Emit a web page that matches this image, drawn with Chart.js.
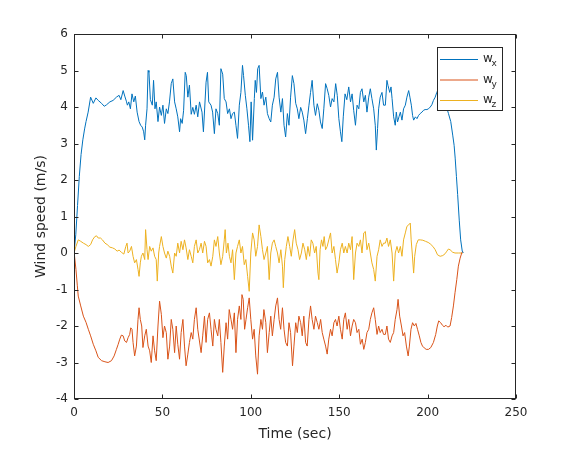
<!DOCTYPE html>
<html>
<head>
<meta charset="utf-8">
<script src="https://cdn.jsdelivr.net/npm/chart.js@4/dist/chart.umd.min.js"></script>
<style>
  html, body { margin: 0; padding: 0; background: #fff; }
  #wrap { width: 570px; height: 450px; }
</style>
</head>
<body>
<div id="wrap"><canvas id="windChart" width="570" height="450"></canvas></div>
<script>
// axis ticks
const xTickValues = [0, 50, 100, 150, 200, 250];
const yTickValues = [-4, -3, -2, -1, 0, 1, 2, 3, 4, 5, 6];

// w_x
const wxTime = [0, 1, 2, 3, 4, 5, 6, 6.8, 8, 9.4, 10.9, 12.4, 13.7, 15.6, 17.1, 18.4, 20.3, 22.1, 24, 25.5, 26.5, 27.8, 28.7, 29.6, 30.2, 31, 31.9, 32.8, 33.8, 34.7, 35.7, 36.8, 37.7, 38.6, 39.4, 40, 40.5, 41.3, 41.9, 42.4, 43.2, 44.3, 45, 45.8, 46.5, 47.5, 48.4, 49.4, 50.3, 51.2, 52.2, 53.1, 54, 55, 55.9, 56.9, 57.8, 58.7, 59.7, 60.3, 61.2, 62, 62.9, 63.5, 64.4, 65.3, 66.3, 67.2, 68.1, 69.1, 70, 71,
  72.4, 73.2, 74.7, 75.5, 76.2, 77.5, 78.4, 79.4, 80.3, 81.3, 82.2, 83.1, 84.1, 85, 86, 86.9, 87.9, 88.8, 89.7, 90.7, 91.6, 92.5, 93.5, 94.4, 95.3, 95.9, 96.9, 97.8, 98.7, 99.5, 100.2, 101, 102, 102.5, 103.2, 103.9, 104.7, 105.7, 106.6, 107.5, 108.5, 109.4, 110.4, 111.3, 112.2, 113.2, 114.1, 115.1, 116, 117, 117.9, 118.8, 119.7, 120.7, 121.6, 122.5, 123.5, 124.4, 125.4, 126.3, 127.2, 128.2, 129.1, 130, 131, 132, 132.9, 133.8, 134.7, 135.7, 136.6, 137.6, 138.5, 139.4, 140.4, 141.3, 142.3, 143.2, 144.1, 145.1, 146, 147, 148, 148.9, 149.8,
  150.7, 151.5, 152.3, 153.3, 154.3, 155.4, 156.4, 157.3, 158.2, 159.2, 160.1, 161.1, 162, 162.9, 163.9, 164.8, 165.7, 166.7, 167.6, 168.5, 169.5, 170.4, 171, 171.7, 172.3, 173.2, 174.2, 175.1, 176.1, 177, 177.6, 178.6, 179.3, 179.9, 180.8, 181.7, 182.3, 183, 183.8, 184.6, 185.5, 186.4, 187.4, 188.3, 189.3, 190, 190.8,
  191.5, 192.1, 193.1, 194, 194.9, 195.8, 196.8, 197.7, 198.6, 199.6, 200.5, 201.5, 202.4, 203.3, 204.3, 205.2, 206.2, 207.1, 208, 209, 210, 211, 211.8, 213.1, 214.2, 215, 215.6, 216.3, 217, 217.9, 218.7, 219.6, 220.2];
const wxVal = [0, 0.5, 1.3, 2.1, 2.7, 3.1, 3.4, 3.6, 3.86, 4.27, 4.1, 4.25, 4.18, 4.1, 4.02, 4.06, 4.14, 4.18, 4.27, 4.32, 4.2, 4.45, 4.3, 4.16, 4.05, 4.14, 3.95, 4.36, 4.14, 4.3, 3.86, 3.6, 3.5, 3.45, 3.32, 3.1, 3.5, 3.95, 5.0, 4.95, 4.2, 4.05, 4.73, 3.95, 4.14, 3.6, 4.0, 3.77, 4.05, 3.55, 3.95, 3.82, 4.14, 4.64, 4.77, 4.14, 3.95, 3.73, 3.32, 3.68, 3.55, 3.91, 4.95, 4.86, 4.27, 4.6, 3.8, 3.99, 3.8, 4.05, 3.73, 4.14,
  3.86, 3.32, 4.68, 4.95, 4.14, 4.05, 3.86, 3.27, 3.95, 3.82, 3.5, 5.05, 4.9, 4.23, 4.14, 3.82, 3.95, 3.68, 3.82, 3.86, 3.5, 3.14, 4.05, 4.4, 5.14, 4.86, 4.32, 3.95, 3.5, 3.05, 4.14, 3.09, 4.23, 4.73, 4.4, 5.05, 5.14, 4.23, 4.41, 4.05, 4.27, 3.82, 3.68, 3.59, 4.05, 4.27, 4.77, 4.95, 4.27, 3.86, 4.23, 3.5, 3.18, 3.82, 3.5, 4.27, 4.86, 4.64, 4.1, 3.95, 3.68, 3.99, 3.86, 3.64, 3.27, 3.68, 4.05, 4.4, 4.73, 4.05, 3.77, 4.09, 3.91, 3.59, 3.41, 3.95, 4.64, 4.5, 4.32, 4.0, 4.23, 4.14, 4.64, 4.32, 3.68,
  3.32, 3.05, 3.73, 4.36, 4.2, 4.55, 4.14, 4.36, 3.91, 3.5, 4.05, 3.95, 4.4, 4.5, 4.14, 4.32, 3.86, 4.27, 4.5, 4.23, 3.95, 3.5, 2.82, 3.41, 3.95, 4.27, 4.4, 4.05, 4.05, 4.73, 4.59, 4.4, 4.55, 4.23, 3.73, 3.5, 3.86, 3.59, 3.73, 3.86, 3.64, 3.95, 4.05, 4.27, 4.45, 4.27, 4.05,
  3.77, 3.64, 3.73, 3.68, 3.77, 3.82, 3.86, 3.91, 3.93, 3.93, 3.95, 4.0, 4.06, 4.18, 4.27, 4.4, 4.5, 4.6, 4.55, 4.4, 4.2, 3.95, 3.82, 3.6, 3.23, 2.95, 2.6, 2.1, 1.6, 0.9, 0.36, 0.05, 0];

// w_y
const wyTime = [0, 1.1, 1.9, 2.4, 3.8, 5.3, 6.8, 8.1, 9.4, 10.9, 12.4, 13.7, 15.6, 17.5, 19.3, 21.2, 22.7, 24, 25, 25.9, 26.8, 27.8, 28.7, 29.7, 30.6, 31.5, 32.1, 32.8, 33.4, 34.3, 35.3, 36.2, 36.8, 37.5, 38.3, 39, 40, 40.9, 41.9, 42.8, 43.7, 44.7, 45.6, 46.5, 47.5, 48.4, 49.4, 50.3, 51.2, 52.2, 53.1, 54.1, 55, 55.9, 56.9, 57.8, 58.7, 59.7, 60.6, 61.6, 62.5, 63.4, 64.4, 65.3, 66.3, 67.2, 68.1, 69.1, 70,
  71.9, 72.8, 73.8, 74.7, 75.6, 76.6, 77.5, 78.5, 79.4, 80.3, 81.3, 82.2, 83.1, 84.1, 85, 86, 86.9, 87.8, 88.8, 89.7, 90.7, 91.6, 92.5, 93.5, 94.4, 95, 95.7, 96.5, 97.3, 98.2, 99.1, 100, 101, 101.9, 102.8, 103.8, 104.7, 105.7, 106.6, 107.4, 108.5, 109.4, 110.4, 111.3, 112.2, 113.2, 114.1, 115.1, 116, 116.9, 117.9, 118.8, 119.7, 120.7, 121.6, 122.5, 123.6, 124.4, 125.4, 126.3, 127.2, 128.2, 129.1, 130, 131, 131.9, 132.9, 133.8, 134.7, 135.7, 136.6, 137.6, 138.5, 139.5, 140.4, 141.3, 142.3, 143.2, 144.1, 145.1, 146, 147, 147.9, 148.8, 149.8,
  150.7, 151.7, 152.6, 153.5, 154.5, 155.4, 156.4, 157.3, 158.2, 159.2, 160.1, 161.1, 162, 163, 163.9, 164.8, 165.7, 166.7, 167.6, 168.5, 169.5, 170.4, 171.4, 172.3, 173.2, 174.2, 175.1, 176.1, 177, 177.9, 178.9, 179.9, 180.8, 181.7, 182.7, 183.3, 184.2, 185.2, 186.1, 187, 188, 189, 189.7, 190.6,
  191.5, 192.5, 193.4, 194.3, 195.3, 196.2, 197.1, 198.1, 199.2, 200.5, 201.8, 203.3, 204.6, 205.5, 206.3, 207.4, 208.4, 209.3, 210.4, 211.4, 212.7, 213.6, 214.6, 215.5, 216.5, 217.4, 218.4, 219.3, 219.9];
const wyVal = [0.05, -0.45, -0.9, -1.18, -1.45, -1.73, -1.9, -2.09, -2.27, -2.5, -2.68, -2.86, -2.95, -2.98, -3.0, -2.95, -2.82, -2.64, -2.5, -2.36, -2.25, -2.27, -2.41, -2.45, -2.32, -2.23, -2.05, -2.09, -2.45, -2.82, -2.55, -1.82, -1.5, -1.82, -2.0, -2.59, -2.27, -2.09, -2.55, -2.68, -3.0, -2.27, -2.68, -2.95, -2.0, -1.32, -1.68, -2.32, -2.0, -2.18, -2.91, -2.55, -1.82, -2.09, -2.73, -2.0, -2.5, -2.91, -2.18, -1.82, -2.55, -3.09, -2.77, -2.45, -2.18, -2.36, -1.82, -1.5, -2.09,
  -2.73, -2.27, -1.73, -2.45, -1.82, -1.64, -2.09, -2.55, -1.82, -2.09, -2.27, -1.82, -2.45, -3.27, -2.55, -1.91, -2.36, -1.55, -1.82, -2.09, -1.64, -2.73, -1.82, -1.45, -1.82, -1.14, -1.27, -2.09, -1.82, -1.5, -1.23, -1.82, -2.36, -2.09, -2.82, -3.32, -2.27, -1.82, -2.09, -1.55, -1.91, -2.73, -2.18, -1.73, -2.27, -1.82, -1.45, -1.23, -1.82, -2.09, -1.5, -2.09, -2.45, -2.55, -1.91, -2.18, -3.09, -2.55, -1.91, -2.18, -1.73, -1.91, -2.27, -1.73, -2.45, -2.55, -1.82, -1.45, -1.82, -2.09, -1.73, -1.91, -2.09, -1.82, -2.18, -2.36, -2.55, -2.77, -2.36, -2.09, -2.27, -1.91, -1.82, -2.0, -1.73,
  -2.09, -2.36, -1.82, -1.64, -2.09, -1.82, -2.27, -2.0, -1.82, -1.91, -2.18, -2.09, -2.5, -2.36, -2.64, -2.45, -2.18, -2.09, -1.82, -1.64, -1.5, -1.82, -2.23, -2.0, -2.18, -2.09, -2.23, -2.23, -2.0, -2.36, -2.45, -2.27, -2.18, -1.82, -1.55, -1.27, -1.73, -2.0, -2.27, -2.18, -2.55, -2.82, -2.55, -2.09,
  -1.91, -2.0, -1.93, -2.09, -2.27, -2.45, -2.55, -2.6, -2.64, -2.64, -2.59, -2.45, -2.23, -2.0, -1.86, -1.91, -1.98, -2.02, -1.98, -2.03, -2.0, -1.77, -1.45, -1.09, -0.73, -0.36, -0.14, 0, 0.05];

// w_z
const wzTime = [0, 1.1, 2.4, 3.8, 5.3, 6.8, 8.1, 9.4, 10.5, 11.8, 12.8, 13.7, 15, 16.1, 17.5, 18.8, 20.3, 21.8, 23.1, 24.4, 25.5, 26.8, 28.2, 29.3, 30, 30.6, 31.5, 32.5, 33.4, 34.3, 35.3, 36.2, 36.8, 37.5, 38.1, 39, 40, 40.5, 41.3, 41.9, 42.8, 43.7, 44.7, 45.6, 46.5, 47.1, 47.9, 48.4, 49.4, 50.3, 51.2, 52.2, 53.1, 54.1, 55, 55.9, 56.9, 57.8, 58.7, 59.7, 60.6, 61.6, 62.5, 63.4, 64.4, 65.3, 66.3, 67.2, 68.1, 69.1, 70, 70.9,
  71.9, 72.8, 73.8, 74.7, 75.6, 76.6, 77.5, 78.5, 79.4, 80.3, 81.3, 82.2, 83.1, 84.1, 85, 85.5, 86.2, 87.1, 87.9, 88.8, 89.7, 90.7, 91.6, 92.5, 93.5, 94.4, 95.3, 96.3, 97.2, 98.2, 99.1, 100, 101, 101.9, 102.8, 103.8, 104.7, 105.7, 106.6, 107.5, 108.5, 109.4, 110.4, 111.3, 112.2, 113.2, 114.1, 115.1, 116, 117, 117.9, 118.4, 119.2, 120.1, 121, 122, 122.9, 123.9, 124.8, 125.7, 126.7, 127.6, 128.6, 129.5, 130.5, 131.4, 132.3, 133.3, 134.2, 135.1, 136.1, 137, 138, 138.5, 139.2, 140, 140.8, 141.5, 142.3, 143.2, 144.1, 145.1, 146, 147, 147.9, 148.8, 149.8,
  150.7, 151.7, 152.6, 153.5, 154.5, 155.4, 156.4, 157.3, 158.2, 159.2, 160.1, 161.1, 162, 162.9, 163.9, 164.8, 165.7, 166.7, 167.6, 168.5, 169.5, 170.4, 171.4, 172.3, 173.2, 174.2, 175.1, 176.1, 177, 177.9, 178.9, 179.9, 180.8, 181.7, 182.7, 183.6, 184.6, 185.5, 186.4, 187.4, 188.3, 189.3, 190.2, 190.7, 191.3, 192.1, 192.7,
  193.6, 194.7, 195.8, 197.3, 198.8, 200.3, 201.5, 203, 204.3, 205.6, 207.1, 208.6, 209.9, 210.9, 211.8, 212.7, 214.2, 215.5, 217.4, 219.3, 219.9];
const wzVal = [0, 0.18, 0.36, 0.32, 0.27, 0.23, 0.18, 0.23, 0.36, 0.45, 0.47, 0.41, 0.41, 0.36, 0.27, 0.23, 0.16, 0.14, 0.11, 0.05, 0.08, 0.02, -0.03, 0.18, 0.27, 0, 0.05, 0.18, -0.09, -0.27, -0.18, -0.45, -0.64, -0.27, -0.09, 0, -0.18, 0.64, 0.09, -0.18, 0.18, 0.05, 0.14, -0.09, -0.18, -0.77, 0, 0.18, 0.45, 0.18, 0, -0.14, 0.05, -0.09, -0.36, -0.55, 0, -0.09, 0.27, 0, 0.32, 0.09, 0.36, 0.14, -0.18, 0.09, -0.09, -0.27, 0.18, 0.36, 0, 0.09,
  0.27, 0, 0.32, 0.18, -0.27, -0.18, -0.36, -0.09, 0.36, 0.18, 0.45, 0, -0.32, -0.09, 0.36, 0.64, 0, 0.27, -0.09, -0.27, 0.09, -0.73, 0, 0.18, 0.36, 0, 0.18, -0.32, -0.18, -0.64, -1.05, 0, 0.55, 0.36, -0.09, 0.18, 0.77, 0.45, 0.09, -0.18, 0, 0.18, -0.73, 0, 0.27, 0.36, 0.18, 0, -0.27, 0.09, -0.36, -0.95, -0.18, 0.18, 0.45, 0.18, -0.09, 0.36, 0.64, 0.27, 0.09, -0.18, 0, 0.27, 0.09, -0.18, 0.18, -0.09, 0.36, 0.27, 0, 0.18, -0.55, -0.73, 0.09, 0.36, 0.18, 0.45, 0.09, 0.18, 0.36, 0.55, 0, 0.18, -0.18, -0.55, -0.27,
  0.09, 0.27, 0, 0.18, 0, 0.27, 0.09, 0.45, -0.73, 0, 0.27, 0.18, 0.36, 0, 0.55, 0.59, 0.09, 0.27, 0, -0.27, -0.45, -0.77, -0.09, 0.09, 0.36, 0.18, 0.27, 0.27, 0.41, 0.18, 0.36, 0, -0.77, 0, 0.18, 0, 0.18, -0.09, 0.36, 0.55, 0.73, 0.77, 0.82, 0.36, 0, -0.55, -0.09,
  0.23, 0.36, 0.36, 0.35, 0.32, 0.29, 0.25, 0.18, 0.09, -0.05, -0.09, -0.07, -0.02, 0.05, 0.11, 0.09, 0.02, 0, 0, 0, 0];

const seriesNames = ['x', 'y', 'z'];
const seriesColors = ['#0072BD', '#D95319', '#EDB120'];
const axisColor = '#262626';
const fontFamily = '"DejaVu Sans", sans-serif';

function toPoints(ts, vs) {
  return ts.map((t, i) => ({x: t, y: vs[i]}));
}

// MATLAB style box, inward ticks and the legend (w with subscripts)
const matlabFrame = {
  id: 'matlabFrame',
  afterDatasetsDraw(chart) {
    const {ctx, chartArea: a, scales} = chart;
    const L = Math.round(a.left) + 0.5, R = Math.round(a.right) - 0.5;
    const T = Math.round(a.top) + 0.5, B = Math.round(a.bottom) - 0.5;
    ctx.save();
    ctx.strokeStyle = axisColor;
    ctx.lineWidth = 1;
    ctx.strokeRect(L, T, R - L, B - T);
    ctx.beginPath();
    xTickValues.forEach(v => {
      const px = Math.round(scales.x.getPixelForValue(v)) + 0.5;
      ctx.moveTo(px, B); ctx.lineTo(px, B - 4);
      ctx.moveTo(px, T); ctx.lineTo(px, T + 4);
    });
    yTickValues.forEach(v => {
      const py = Math.round(scales.y.getPixelForValue(v)) + 0.5;
      ctx.moveTo(L, py); ctx.lineTo(L + 4, py);
      ctx.moveTo(R, py); ctx.lineTo(R - 4, py);
    });
    ctx.stroke();

    // legend box
    const bx = 437.5, by = 47.5, bw = 65, bh = 63;
    ctx.fillStyle = '#fff';
    ctx.fillRect(bx, by, bw, bh);
    ctx.strokeRect(bx, by, bw, bh);
    const rows = [59, 79.5, 100];
    rows.forEach((ry, i) => {
      ctx.strokeStyle = seriesColors[i];
      ctx.beginPath();
      ctx.moveTo(440, ry + 0.5); ctx.lineTo(478, ry + 0.5);
      ctx.stroke();
      ctx.fillStyle = axisColor;
      ctx.textBaseline = 'alphabetic';
      ctx.textAlign = 'left';
      ctx.font = '12px ' + fontFamily;
      ctx.fillText('w', 483, ry + 3);
      ctx.font = '9px ' + fontFamily;
      ctx.fillText(seriesNames[i], 491.5, ry + 7);
    });
    ctx.restore();
  }
};

new Chart(document.getElementById('windChart'), {
  type: 'line',
  data: {
    datasets: [
      { label: 'w_x', data: toPoints(wxTime, wxVal), borderColor: seriesColors[0] },
      { label: 'w_y', data: toPoints(wyTime, wyVal), borderColor: seriesColors[1] },
      { label: 'w_z', data: toPoints(wzTime, wzVal), borderColor: seriesColors[2] }
    ]
  },
  options: {
    responsive: false,
    animation: false,
    events: [],
    layout: { padding: { left: 0, top: 34, right: 54, bottom: 0 } },
    elements: {
      line: { borderWidth: 1, tension: 0, fill: false },
      point: { radius: 0 }
    },
    plugins: { legend: { display: false }, tooltip: { enabled: false } },
    scales: {
      x: {
        type: 'linear',
        min: xTickValues[0],
        max: xTickValues[xTickValues.length - 1],
        afterFit: s => { s.height = 51; },
        afterBuildTicks: s => { s.ticks = xTickValues.map(v => ({value: v})); },
        grid: { display: false, drawTicks: false },
        border: { display: false },
        ticks: { color: axisColor, padding: 7, maxRotation: 0, font: { family: fontFamily, size: 12 } },
        title: { display: true, text: 'Time (sec)', color: axisColor, padding: { top: 0, bottom: 7 }, font: { family: fontFamily, size: 14 } }
      },
      y: {
        min: yTickValues[0],
        max: yTickValues[yTickValues.length - 1],
        afterFit: s => { s.width = 74; },
        afterBuildTicks: s => { s.ticks = yTickValues.map(v => ({value: v})); },
        grid: { display: false, drawTicks: false },
        border: { display: false },
        ticks: { color: axisColor, padding: 6, font: { family: fontFamily, size: 12 } },
        title: { display: true, text: 'Wind speed (m/s)', color: axisColor, padding: { top: 33, bottom: 0 }, font: { family: fontFamily, size: 14 } }
      }
    }
  },
  plugins: [matlabFrame]
});
</script>
</body>
</html>
